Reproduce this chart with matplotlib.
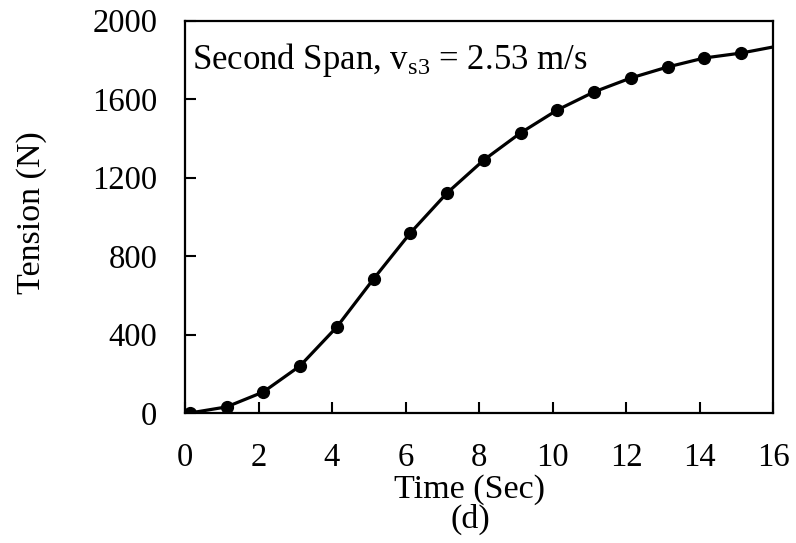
import matplotlib
matplotlib.use("Agg")
import matplotlib.pyplot as plt

plt.rcParams['font.family'] = ['Liberation Serif', 'DejaVu Serif']
plt.rcParams['mathtext.fontset'] = 'custom'
plt.rcParams['mathtext.rm'] = 'Liberation Serif'
plt.rcParams['mathtext.it'] = 'Liberation Serif:italic'

# data
time_s = [0.13, 1.13, 2.13, 3.13, 4.13, 5.13, 6.13, 7.13, 8.13, 9.13,
          10.13, 11.13, 12.13, 13.13, 14.13, 15.13]
tension_n = [0, 31, 107, 240, 438, 683, 917, 1121, 1289, 1427,
             1544, 1636, 1707, 1763, 1809, 1834]
# curve continues to the right edge
curve_end_t = [16.0]
curve_end_n = [1865]

xticks = [0, 2, 4, 6, 8, 10, 12, 14, 16]
yticks = [0, 400, 800, 1200, 1600, 2000]

fig = plt.figure(figsize=(7.96, 5.43), dpi=100)
ax = fig.add_axes([185/796, 1 - 413/543, (773-185)/796, (413-20.5)/543])

ax.plot(time_s + curve_end_t, tension_n + curve_end_n, color='black', lw=2.3,
        solid_capstyle='round')
ax.plot(time_s, tension_n, 'o', color='black', ms=8.5)

ax.set_xlim(0, 16)
ax.set_ylim(0, 2000)
ax.set_xticks(xticks)
ax.set_yticks(yticks)
ax.tick_params(direction='in', length=8, width=1.5, labelsize=23.5,
               top=False, right=False)
ax.tick_params(axis='x', pad=21)
ax.tick_params(axis='y', pad=20)
for s in ax.spines.values():
    s.set_linewidth(1.6)

ax.text(0.2, 1800, r'Second Span, v$_{\mathrm{s3}}$ = 2.53 m/s', fontsize=25,
        va='center', ha='left')

fig.text(470/796, 1 - 505/543, 'Time (Sec)\n(d)', fontsize=24.5, ha='center',
         va='center', multialignment='center', linespacing=0.95)
fig.text(32/796, 1 - 213/543, 'Tension (N)', fontsize=24.5, ha='center', va='center',
         rotation=90)

fig.savefig('out.png', dpi=100)
